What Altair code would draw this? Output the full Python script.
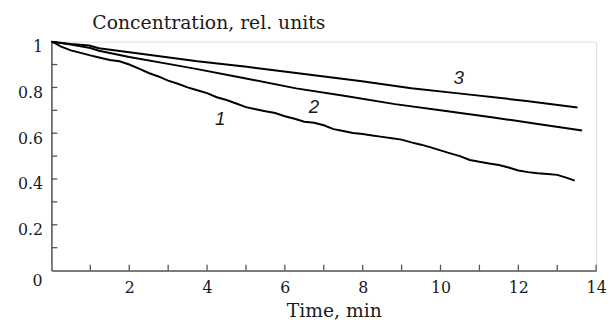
import altair as alt
import pandas as pd

# Curve 1 (measured, noisy)
t1 = [0, 0.1, 0.25, 0.5, 0.75, 1.0, 1.25, 1.5, 1.75, 2.0, 2.25, 2.5, 2.75, 3.0, 3.25,
      3.5, 3.75, 4.0, 4.25, 4.5, 4.75, 5.0, 5.25, 5.5, 5.75, 6.0, 6.25, 6.5, 6.75, 7.0,
      7.25, 7.5, 7.75, 8.0, 8.25, 8.5, 8.75, 9.0, 9.25, 9.5, 9.75, 10.0, 10.25, 10.5,
      10.75, 11.0, 11.25, 11.5, 11.75, 12.0, 12.25, 12.5, 12.75, 13.0, 13.25, 13.45]
c1 = [1.000, 0.992, 0.978, 0.962, 0.951, 0.940, 0.930, 0.920, 0.914, 0.900, 0.882,
      0.863, 0.848, 0.830, 0.816, 0.800, 0.788, 0.775, 0.757, 0.745, 0.730, 0.714,
      0.705, 0.696, 0.688, 0.674, 0.663, 0.650, 0.646, 0.635, 0.618, 0.610, 0.601,
      0.597, 0.590, 0.584, 0.578, 0.572, 0.560, 0.550, 0.538, 0.525, 0.512, 0.500,
      0.483, 0.475, 0.468, 0.461, 0.450, 0.437, 0.430, 0.425, 0.422, 0.418, 0.405, 0.393]

# Curve 2
t2 = [0, 0.5, 1.0, 1.22, 2.0, 3.0, 3.75, 5.0, 6.29, 7.56, 8.83, 10.09, 11.36, 12.5, 13.64]
c2 = [1.000, 0.987, 0.972, 0.960, 0.933, 0.903, 0.880, 0.839, 0.796, 0.763, 0.727,
      0.698, 0.669, 0.640, 0.612]

# Curve 3
t3 = [0, 0.5, 0.97, 1.22, 2.49, 3.75, 5.02, 6.29, 7.98, 9.25, 10.52, 12.21, 13.52]
c3 = [1.000, 0.990, 0.983, 0.971, 0.943, 0.914, 0.890, 0.863, 0.827, 0.796, 0.773,
      0.741, 0.712]

x_ticks = [1, 2, 3, 4, 5, 6, 7, 8, 9, 10, 11, 12, 13, 14]
y_ticks = [0.1, 0.2, 0.3, 0.4, 0.5, 0.6, 0.7, 0.8, 0.9, 1.0]
x_labels = [2, 4, 6, 8, 10, 12, 14]
y_labels = [0.2, 0.4, 0.6, 0.8, 1.0]

curve_label_t = [4.34, 6.75, 10.47]
curve_label_v = [0.660, 0.715, 0.842]
curve_label_text = ["1", "2", "3"]

W, H = 552, 232
AX = "#555555"
TXT = "#1a1a1a"
SERIF = "DejaVu Serif"

curves = pd.concat([
    pd.DataFrame({"t": t1, "v": c1, "k": "1"}),
    pd.DataFrame({"t": t2, "v": c2, "k": "2"}),
    pd.DataFrame({"t": t3, "v": c3, "k": "3"}),
])

xs = alt.Scale(domain=[0, 14], nice=False, zero=False)
ys = alt.Scale(domain=[0, 1], nice=False, zero=False)

xaxis = alt.Axis(values=x_labels, ticks=False, grid=False, domainColor=AX, domainWidth=1.5,
                 labelFont=SERIF, labelFontSize=16, labelColor=TXT, labelPadding=9,
                 labelFlush=False, labelOverlap=False, format="d",
                 title="Time, min", titleFont=SERIF, titleFontSize=19, titleFontWeight="normal",
                 titleColor=TXT, titleX=238, titleY=47, titleAlign="left",
                 titleBaseline="alphabetic", titleAngle=0)
yaxis = alt.Axis(values=y_labels, ticks=False, grid=False, domainColor=AX, domainWidth=1.5,
                 labelFont=SERIF, labelFontSize=16, labelColor=TXT, labelPadding=9,
                 labelOffset=5, labelBaseline="middle",
                 labelFlush=False, labelOverlap=False,
                 labelExpr="datum.value == 1 ? '1' : format(datum.value, '.1f')",
                 title="Concentration, rel. units", titleFont=SERIF, titleFontSize=19,
                 titleFontWeight="normal", titleColor=TXT, titleX=41, titleY=-13,
                 titleAlign="left", titleBaseline="alphabetic", titleAngle=0)

lines = alt.Chart(curves).mark_line(color="black", strokeWidth=2).encode(
    x=alt.X("t:Q", scale=xs, axis=xaxis),
    y=alt.Y("v:Q", scale=ys, axis=yaxis),
    detail="k:N",
)

xt = alt.Chart(pd.DataFrame({"t": x_ticks})).mark_rule(color=AX, strokeWidth=1.3).encode(
    x=alt.X("t:Q", scale=xs, axis=xaxis),
    y=alt.value(H),
    y2=alt.value(H - 6),
)
yt = alt.Chart(pd.DataFrame({"v": y_ticks})).mark_rule(color=AX, strokeWidth=1.3).encode(
    y=alt.Y("v:Q", scale=ys, axis=yaxis),
    x=alt.value(0),
    x2=alt.value(6),
)

labels = alt.Chart(pd.DataFrame({"t": curve_label_t, "v": curve_label_v,
                                 "s": curve_label_text})).mark_text(
    font="Liberation Sans", fontStyle="italic", fontSize=19, color=TXT,
    align="center", baseline="middle").encode(
    x=alt.X("t:Q", scale=xs, axis=xaxis),
    y=alt.Y("v:Q", scale=ys, axis=yaxis),
    text="s:N",
)

zero = alt.Chart(pd.DataFrame({"t": [0], "v": [0], "s": ["0"]})).mark_text(
    font=SERIF, fontSize=16, color=TXT, align="center", baseline="middle",
    dx=-14, dy=11).encode(
    x=alt.X("t:Q", scale=xs, axis=xaxis),
    y=alt.Y("v:Q", scale=ys, axis=yaxis),
    text="s:N",
)

chart = alt.layer(xt, yt, lines, labels, zero).properties(
    width=W, height=H,
    autosize=alt.AutoSizeParams(type="none"),
    padding={"left": 44, "top": 32, "right": 11, "bottom": 50},
).configure_view(stroke=None).configure_axis(labelFont=SERIF, titleFont=SERIF).configure(
    background="white")

chart.save("out.html", embed_options={"renderer": "svg", "actions": False})
